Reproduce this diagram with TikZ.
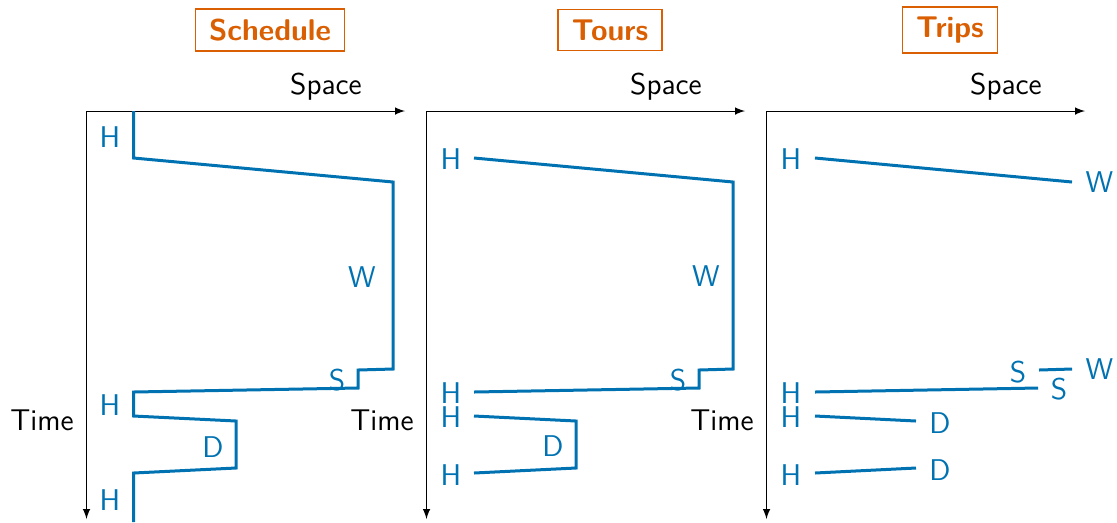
\documentclass[tikz,border=0pt]{standalone}
\usepackage{fontspec}
\usetikzlibrary{positioning}

\definecolor{routeblue}{RGB}{0,114,178}
\definecolor{titleorange}{RGB}{217,95,2}

\tikzset{
  route/.style={draw=routeblue, line width=1.2pt},
  place/.style={text=routeblue, anchor=base, inner sep=0pt},
  axis/.style={-latex, line width=0.4pt},
  panel/.style={draw=titleorange, text=titleorange, font=\sffamily\bfseries\fontsize{12}{14}\selectfont,
    line width=0.6pt, inner xsep=5.5pt, inner ysep=4pt}
}

\begin{document}
\begin{tikzpicture}[x=0.4pt, y=-0.4pt, font=\sffamily\fontsize{12}{14}\selectfont]
\useasboundingbox (0,0) rectangle (1117,522);

% three panels with their axes
\foreach \dx/\ttl in {0/Schedule, 340/Tours, 680/Trips} {
  \node[panel] (title\dx) at (270+\dx,30) {\ttl};
  \node[anchor=base] (space\dx) at (326+\dx,94) {Space};
  \node[anchor=base] (time\dx) at (42+\dx,430) {Time};
  \coordinate (origin\dx) at (86.5+\dx,111);
  \coordinate (xend\dx) at (405+\dx,111);
  \coordinate (yend\dx) at (86.5+\dx,519);
  \draw[axis] (origin\dx) -- (xend\dx);
  \draw[axis] (origin\dx) -- (yend\dx);
}

% schedule
\node[place] (sH1) at (110,147) {H};
\node[place] (sW) at (362,287) {W};
\node[place] (sS) at (337,390) {S};
\node[place] (sH2) at (110,415) {H};
\node[place] (sD) at (213,457) {D};
\node[place] (sH3) at (110,510) {H};
\draw[route] (133.5,111) -- (133.5,158) -- (393,182) -- (393,369) -- (358,370) -- (358,388)
  -- (133.5,392) -- (133.5,416) -- (236,421) -- (236,468) -- (133.5,473) -- (133.5,522);

% tours
\node[place] (tH1) at (451,169) {H};
\node[place] (tW) at (706,286) {W};
\node[place] (tS) at (678,390) {S};
\node[place] (tH2) at (451,403) {H};
\node[place] (tH3) at (451,427) {H};
\node[place] (tD) at (553,456) {D};
\node[place] (tH4) at (451,485) {H};
\draw[route] (474,158) -- (733,182) -- (733,369) -- (699,370) -- (699,388) -- (474,392);
\draw[route] (474,416) -- (576,421) -- (576,468) -- (474,473);

% trips
\node[place] (pH1) at (791,169) {H};
\node[place] (pW1) at (1099.5,192) {W};
\node[place] (pS1) at (1018,382) {S};
\node[place] (pW2) at (1099.5,379) {W};
\node[place] (pS2) at (1059,399) {S};
\node[place] (pH2) at (791,403) {H};
\node[place] (pH3) at (791,427) {H};
\node[place] (pD1) at (940,433) {D};
\node[place] (pD2) at (940,480) {D};
\node[place] (pH4) at (791,485) {H};
\draw[route] (815,158) -- (1072,182);
\draw[route] (815,392) -- (1038,388);
\draw[route] (1039,370) -- (1072,369);
\draw[route] (815,416) -- (916,421);
\draw[route] (815,473) -- (916,468);
\end{tikzpicture}
\end{document}
